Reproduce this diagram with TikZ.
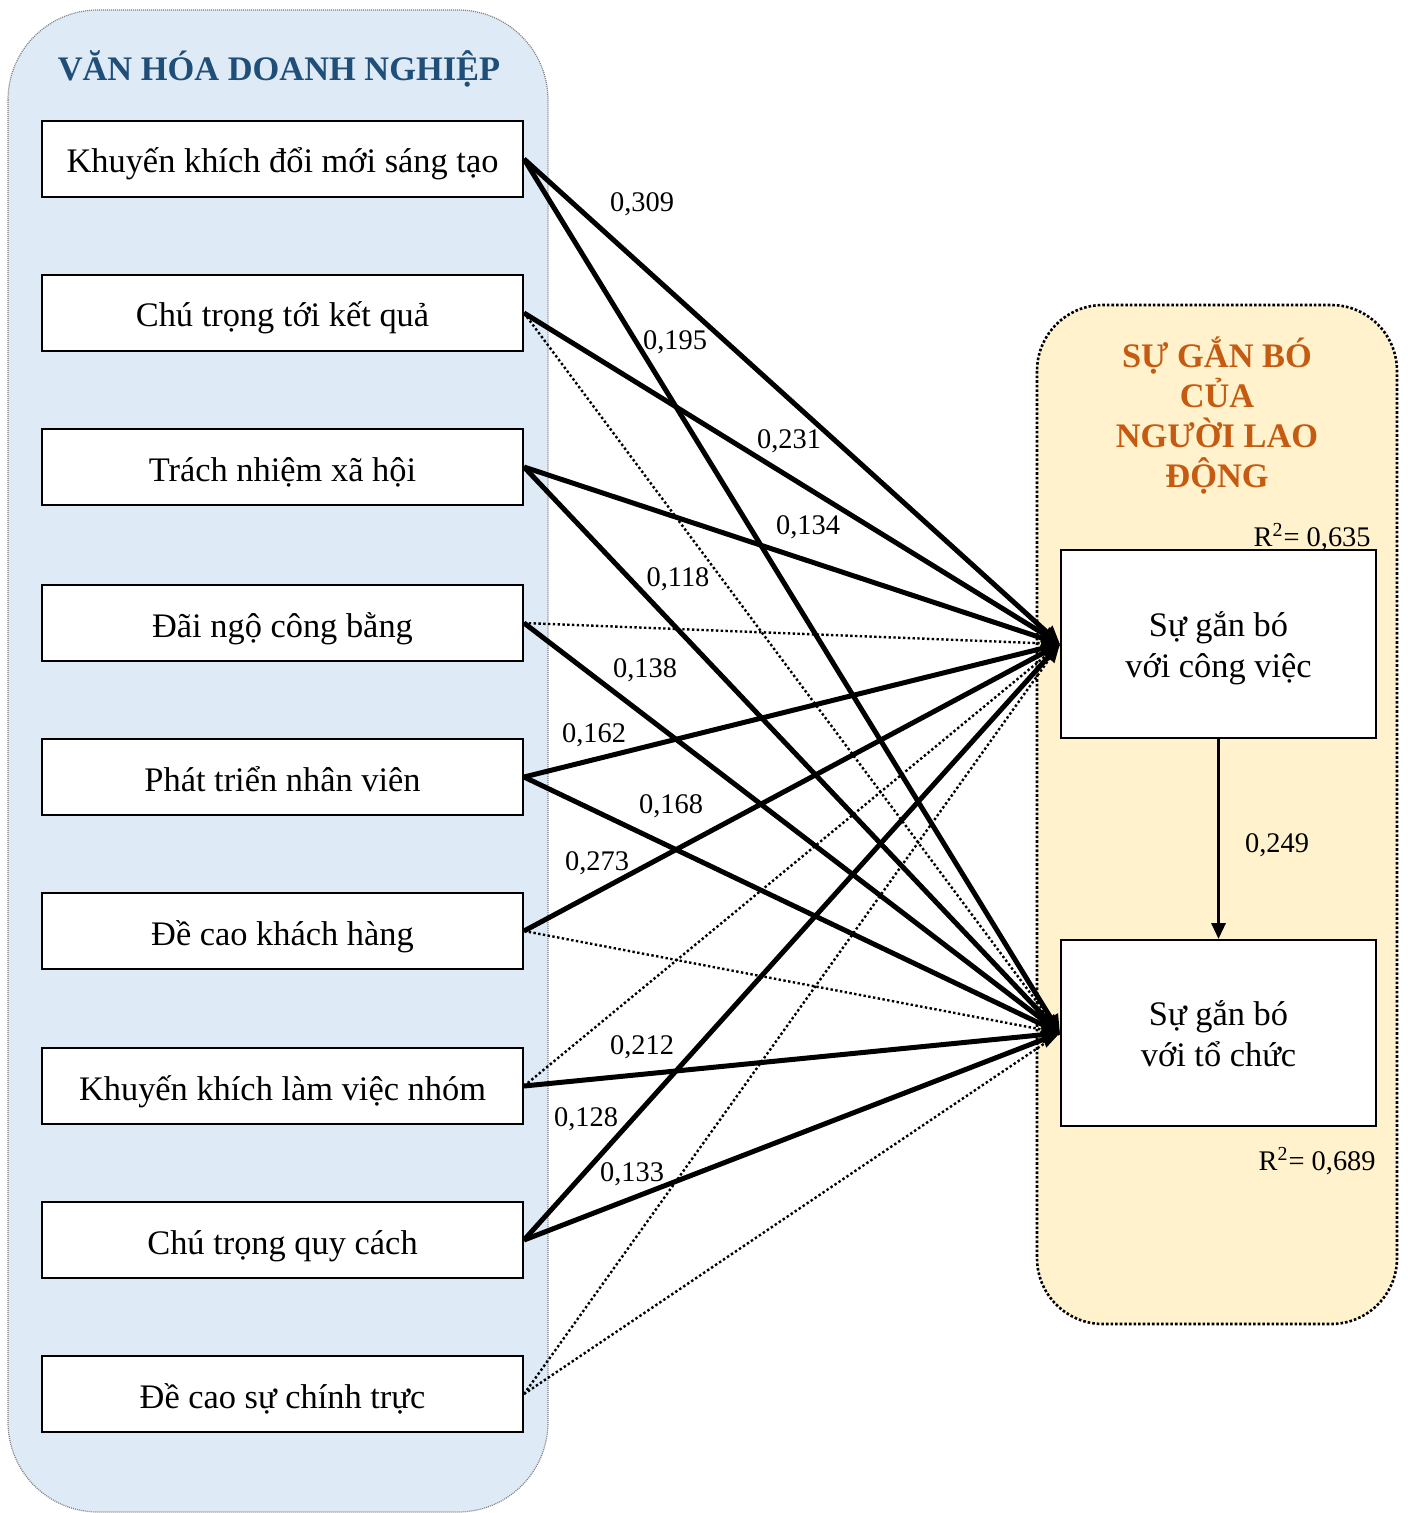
\documentclass[tikz,border=0pt]{standalone}
\usepackage{fontspec}
\setmainfont{Liberation Serif}
\usetikzlibrary{arrows.meta}
\definecolor{leftfill}{HTML}{DEEAF6}
\definecolor{rightfill}{HTML}{FFF2CC}
\definecolor{lefttitle}{HTML}{1F4E79}
\definecolor{righttitle}{HTML}{C55A11}
\tikzset{
  factor/.style={draw=black, line width=1pt, fill=white, minimum width=240.5pt,
    minimum height=38pt, inner sep=0pt, text height=18pt, text depth=4pt,
    font=\fontsize{17.2}{20.5}\selectfont},
  outcome/.style={draw=black, line width=1pt, fill=white, minimum width=157.5pt,
    inner sep=0pt},
  outtext/.style={inner sep=0pt, align=center, font=\fontsize{17.2}{20.5}\selectfont},
  strong/.style={line width=2.5pt, -{Triangle[length=9pt,width=8pt]}},
  weak/.style={line width=1.2pt, dash pattern=on 1.2pt off 1.2pt},
  coef/.style={inner sep=0pt, font=\fontsize{14.2}{17}\selectfont},
}
\begin{document}
\begin{tikzpicture}[x=0.5pt,y=-0.5pt]
\useasboundingbox (0,0) rectangle (1407,1513);

% group panels
\draw[fill=leftfill, draw=gray, line width=0.6pt, dash pattern=on 0.5pt off 0.5pt,
  rounded corners=45pt] (8,10) rectangle (548,1512);
\draw[fill=rightfill, draw=black, line width=1.3pt, dash pattern=on 1.3pt off 1pt,
  rounded corners=33pt] (1037,305) rectangle (1397,1324);

% group titles
\node[font=\fontsize{17.2}{20}\bfseries, text=lefttitle, inner sep=0pt] (ttlL) at (279,69)
  {VĂN HÓA DOANH NGHIỆP};
\node[font=\fontsize{17.2}{20}\bfseries, text=righttitle, align=center, inner sep=0pt] (ttlR)
  at (1217,416) {SỰ GẮN BÓ\\CỦA\\NGƯỜI LAO\\ĐỘNG};

% culture factors
\node[factor] (L1) at (282.5,159) {Khuyến khích đổi mới sáng tạo};
\node[factor] (L2) at (282.5,313) {Chú trọng tới kết quả};
\node[factor] (L3) at (282.5,467) {Trách nhiệm xã hội};
\node[factor] (L4) at (282.5,623) {Đãi ngộ công bằng};
\node[factor] (L5) at (282.5,777) {Phát triển nhân viên};
\node[factor] (L6) at (282.5,931) {Đề cao khách hàng};
\node[factor] (L7) at (282.5,1086) {Khuyến khích làm việc nhóm};
\node[factor] (L8) at (282.5,1240) {Chú trọng quy cách};
\node[factor] (L9) at (282.5,1394) {Đề cao sự chính trực};

% engagement outcomes
\node[outcome, minimum height=94pt] (A) at (1218.5,644) {};
\node[outcome, minimum height=93pt] (B) at (1218.5,1033) {};
\node[outtext] (Atxt) at (1218.5,648) {Sự gắn bó\\với công việc};
\node[outtext] (Btxt) at (1218.5,1034) {Sự gắn bó\\với tổ chức};

% non-significant paths
\draw[weak] (L2.east) -- (B.west);
\draw[weak] (L4.east) -- (A.west);
\draw[weak] (L6.east) -- (B.west);
\draw[weak] (L7.east) -- (A.west);
\draw[weak] (L9.east) -- (A.west);
\draw[weak] (L9.east) -- (B.west);

% significant paths
\draw[strong] (L1.east) -- (A.west);
\draw[strong] (L1.east) -- (B.west);
\draw[strong] (L2.east) -- (A.west);
\draw[strong] (L3.east) -- (A.west);
\draw[strong] (L3.east) -- (B.west);
\draw[strong] (L4.east) -- (B.west);
\draw[strong] (L5.east) -- (A.west);
\draw[strong] (L5.east) -- (B.west);
\draw[strong] (L6.east) -- (A.west);
\draw[strong] (L7.east) -- (B.west);
\draw[strong] (L8.east) -- (A.west);
\draw[strong] (L8.east) -- (B.west);
\draw[line width=1.6pt, -{Triangle[length=8pt,width=7pt]}] (A.south) -- (B.north);

% path coefficients
\node[coef] (c1) at (642,204) {0,309};
\node[coef] (c2) at (675,342) {0,195};
\node[coef] (c3) at (789,441) {0,231};
\node[coef] (c4) at (808,527) {0,134};
\node[coef] (c5) at (678,579) {0,118};
\node[coef] (c6) at (645,670) {0,138};
\node[coef] (c7) at (594,735) {0,162};
\node[coef] (c8) at (671,806) {0,168};
\node[coef] (c9) at (597,863) {0,273};
\node[coef] (c10) at (642,1047) {0,212};
\node[coef] (c11) at (586,1119) {0,128};
\node[coef] (c12) at (632,1174) {0,133};
\node[coef] (c13) at (1277,845) {0,249};
\node[coef, anchor=east] (r1) at (1371,537) {R\textsuperscript{2}= 0,635};
\node[coef, anchor=east] (r2) at (1376,1161) {R\textsuperscript{2}= 0,689};
\end{tikzpicture}
\end{document}
